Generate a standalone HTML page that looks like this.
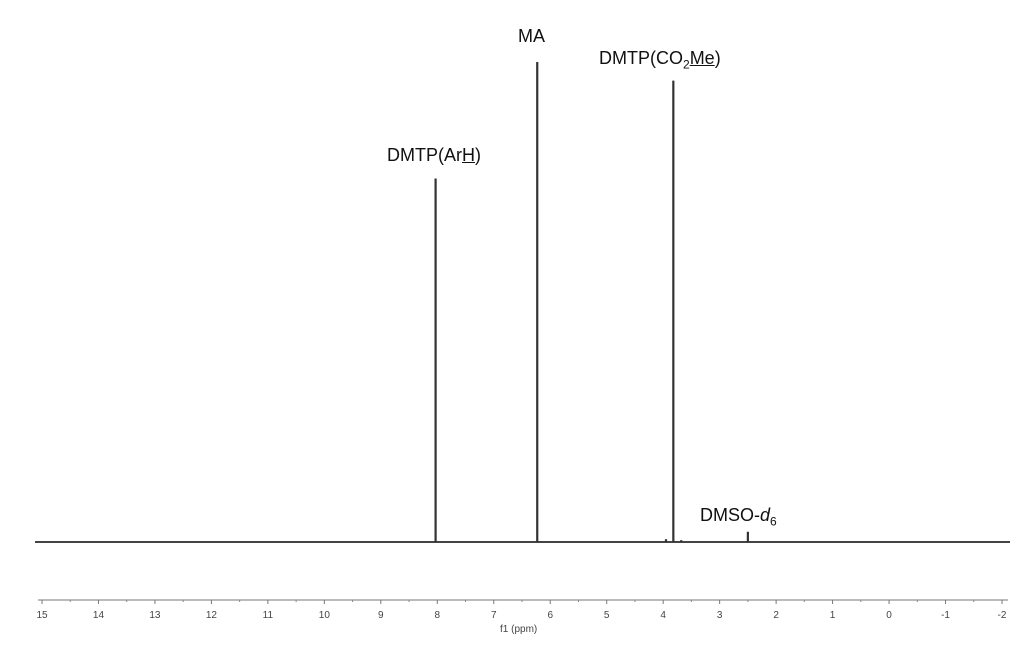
<!DOCTYPE html>
<html><head><meta charset="utf-8"><style>
html,body{margin:0;padding:0;background:#fff;}
svg{display:block;font-family:"Liberation Sans",sans-serif;}
</style></head><body>
<svg id="chart" width="1030" height="651" xmlns="http://www.w3.org/2000/svg">
<g id="marks"></g>
<g id="axis"></g>
</svg>
<script>
const peakShifts = [8.03, 6.23, 3.82, 2.50, 3.95, 3.68];
const peakIntensity = [0.78, 1.03, 0.99, 0.022, 0.006, 0.004];
const peakNames = ["peak-dmtp-arh", "peak-ma", "peak-dmtp-co2me", "peak-dmso", "peak-minor-a", "peak-minor-b"];
const tickValues = [15,14,13,12,11,10,9,8,7,6,5,4,3,2,1,0,-1,-2];
const tickLabels = ["15","14","13","12","11","10","9","8","7","6","5","4","3","2","1","0","-1","-2"];

const NS = "http://www.w3.org/2000/svg";
const x = v => 42 + (15 - v) * 56.47;
const baseY = 542;
const y = h => baseY - h * 466;
function el(tag, attrs, parent){const e=document.createElementNS(NS,tag);for(const k in attrs)e.setAttribute(k,attrs[k]);parent.appendChild(e);return e;}
const marks = document.getElementById('marks');
const axis = document.getElementById('axis');

const base = el('line',{x1:35,x2:1010,y1:baseY,y2:baseY,stroke:'#444','stroke-width':2},marks);


peakShifts.forEach((s,i)=>{
  const l = el('line',{x1:x(s),x2:x(s),y1:baseY,y2:y(peakIntensity[i]),stroke:'#333','stroke-width':2.2},marks);
  
  
});

const axY = 600;
const al = el('line',{x1:38,x2:1008,y1:axY,y2:axY,stroke:'#bbb','stroke-width':2},axis);


tickValues.forEach((v,i)=>{
  const t = el('line',{x1:x(v),x2:x(v),y1:axY,y2:axY+4,stroke:'#777','stroke-width':1},axis);
  
  
  if(i<tickValues.length-1){
    const m = el('line',{x1:x(v-0.5),x2:x(v-0.5),y1:axY,y2:axY+2,stroke:'#888','stroke-width':1},axis);
    
    
  }
  const lb = el('text',{x:x(v),y:axY+18,'font-size':10,fill:'#444','text-anchor':'middle'},axis);
  lb.textContent = tickLabels[i];
  
  
});
</script>
<g></g>
<div style="position:absolute;left:0;top:0;width:1030px;height:651px;pointer-events:none;font-family:'Liberation Sans',sans-serif;color:#111;font-size:18px;">
  <div style="position:absolute;left:518px;top:26px;">MA</div>
  <div style="position:absolute;left:387px;top:145px;">DMTP(Ar<u>H</u>)</div>
  <div style="position:absolute;left:599px;top:48px;">DMTP(CO<sub style="font-size:12px">2</sub><u>Me</u>)</div>
  <div style="position:absolute;left:700px;top:505px;">DMSO-<i>d</i><sub style="font-size:12px">6</sub></div>
  <div style="position:absolute;left:500px;top:624px;font-size:10px;color:#444;">f1 (ppm)</div>
</div>
</body></html>
